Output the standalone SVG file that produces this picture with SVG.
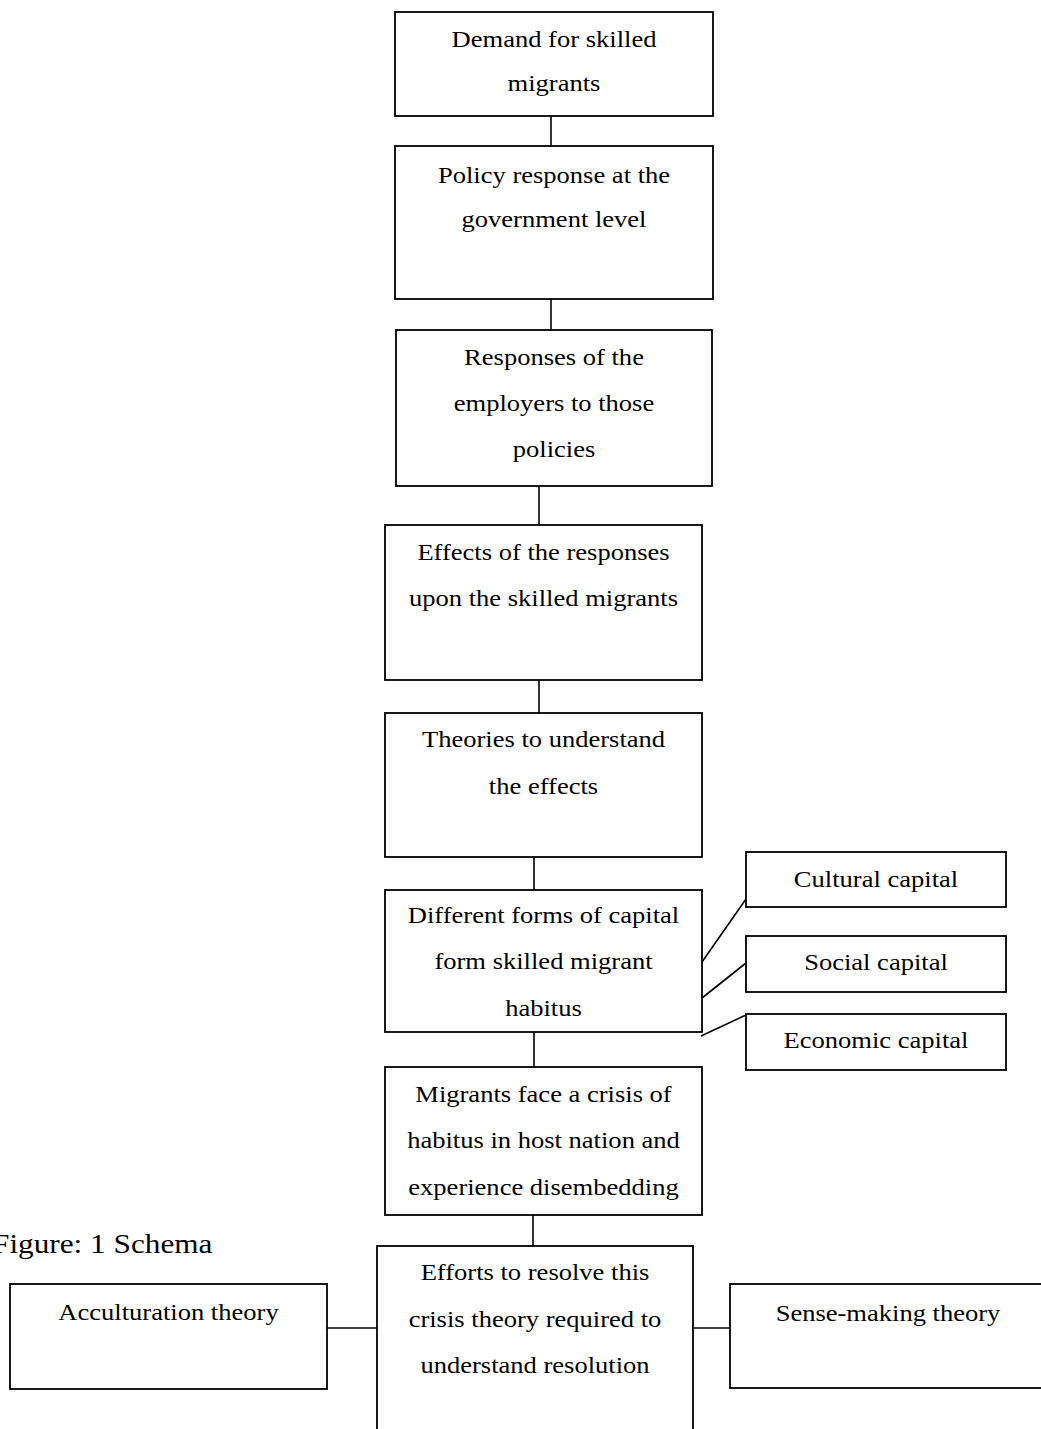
<svg xmlns="http://www.w3.org/2000/svg" width="1041" height="1429" viewBox="0 0 1041 1429">
  <style>
    .box { fill: #ffffff; stroke: #000000; stroke-width: 1.8; }
    .link { fill: none; stroke: #000000; stroke-width: 1.6; }
    .lbl { font-family: "Liberation Serif", "Times New Roman", serif; font-size: 22.5px; fill: #000000; text-anchor: middle; }
    .cap { font-family: "Liberation Serif", "Times New Roman", serif; font-size: 26.5px; fill: #000000; }
  </style>
  <rect width="1041" height="1429" fill="#ffffff"/>

  <!-- connectors -->
  <g id="connectors">
    <line class="link" x1="551" y1="116" x2="551" y2="146"/>
    <line class="link" x1="551" y1="299" x2="551" y2="330"/>
    <line class="link" x1="539" y1="486" x2="539" y2="525"/>
    <line class="link" x1="539" y1="680" x2="539" y2="713"/>
    <line class="link" x1="534" y1="857" x2="534" y2="890"/>
    <line class="link" x1="534" y1="1032" x2="534" y2="1067"/>
    <line class="link" x1="533" y1="1215" x2="533" y2="1246"/>
    <line class="link" x1="702" y1="962" x2="746" y2="899"/>
    <line class="link" x1="702" y1="998" x2="746" y2="963"/>
    <line class="link" x1="701" y1="1036" x2="746" y2="1015"/>
    <line class="link" x1="327" y1="1328" x2="377" y2="1328"/>
    <line class="link" x1="693" y1="1328" x2="733" y2="1328"/>
  </g>

  <g id="demand">
    <rect class="box" x="395" y="12" width="318" height="104"/>
    <text class="lbl" transform="matrix(1.18 0 0 1 554 47)">Demand for skilled</text>
    <text class="lbl" transform="matrix(1.18 0 0 1 554 91)">migrants</text>
  </g>

  <g id="policy">
    <rect class="box" x="395" y="146" width="318" height="153"/>
    <text class="lbl" transform="matrix(1.18 0 0 1 554 183)">Policy response at the</text>
    <text class="lbl" transform="matrix(1.18 0 0 1 554 227)">government level</text>
  </g>

  <g id="employers">
    <rect class="box" x="396" y="330" width="316" height="156"/>
    <text class="lbl" transform="matrix(1.18 0 0 1 554 365)">Responses of the</text>
    <text class="lbl" transform="matrix(1.18 0 0 1 554 411)">employers to those</text>
    <text class="lbl" transform="matrix(1.18 0 0 1 554 457)">policies</text>
  </g>

  <g id="effects">
    <rect class="box" x="385" y="525" width="317" height="155"/>
    <text class="lbl" transform="matrix(1.18 0 0 1 543.5 560)">Effects of the responses</text>
    <text class="lbl" transform="matrix(1.18 0 0 1 543.5 606)">upon the skilled migrants</text>
  </g>

  <g id="theories">
    <rect class="box" x="385" y="713" width="317" height="144"/>
    <text class="lbl" transform="matrix(1.18 0 0 1 543.5 747)">Theories to understand</text>
    <text class="lbl" transform="matrix(1.18 0 0 1 543.5 794)">the effects</text>
  </g>

  <g id="capital">
    <rect class="box" x="385" y="890" width="317" height="142"/>
    <text class="lbl" transform="matrix(1.18 0 0 1 543.5 923)">Different forms of capital</text>
    <text class="lbl" transform="matrix(1.18 0 0 1 543.5 969)">form skilled migrant</text>
    <text class="lbl" transform="matrix(1.18 0 0 1 543.5 1016)">habitus</text>
  </g>

  <g id="cultural">
    <rect class="box" x="746" y="852" width="260" height="55"/>
    <text class="lbl" transform="matrix(1.18 0 0 1 876 887)">Cultural capital</text>
  </g>

  <g id="social">
    <rect class="box" x="746" y="936" width="260" height="56"/>
    <text class="lbl" transform="matrix(1.18 0 0 1 876 970)">Social capital</text>
  </g>

  <g id="economic">
    <rect class="box" x="746" y="1014" width="260" height="56"/>
    <text class="lbl" transform="matrix(1.18 0 0 1 876 1048)">Economic capital</text>
  </g>

  <g id="crisis">
    <rect class="box" x="385" y="1067" width="317" height="148"/>
    <text class="lbl" transform="matrix(1.18 0 0 1 543.5 1102)">Migrants face a crisis of</text>
    <text class="lbl" transform="matrix(1.18 0 0 1 543.5 1148)">habitus in host nation and</text>
    <text class="lbl" transform="matrix(1.18 0 0 1 543.5 1195)">experience disembedding</text>
  </g>

  <g id="caption">
    <text class="cap" transform="matrix(1.18 0 0 1 -8 1253)">Figure: 1 Schema</text>
  </g>

  <g id="efforts">
    <rect class="box" x="377" y="1246" width="316" height="200"/>
    <text class="lbl" transform="matrix(1.18 0 0 1 535 1280)">Efforts to resolve this</text>
    <text class="lbl" transform="matrix(1.18 0 0 1 535 1327)">crisis theory required to</text>
    <text class="lbl" transform="matrix(1.18 0 0 1 535 1373)">understand resolution</text>
  </g>

  <g id="acculturation">
    <rect class="box" x="10" y="1284" width="317" height="105"/>
    <text class="lbl" transform="matrix(1.18 0 0 1 168.5 1320)">Acculturation theory</text>
  </g>

  <g id="sensemaking">
    <rect class="box" x="730" y="1284" width="330" height="104"/>
    <text class="lbl" transform="matrix(1.18 0 0 1 888 1321)">Sense-making theory</text>
  </g>
</svg>
